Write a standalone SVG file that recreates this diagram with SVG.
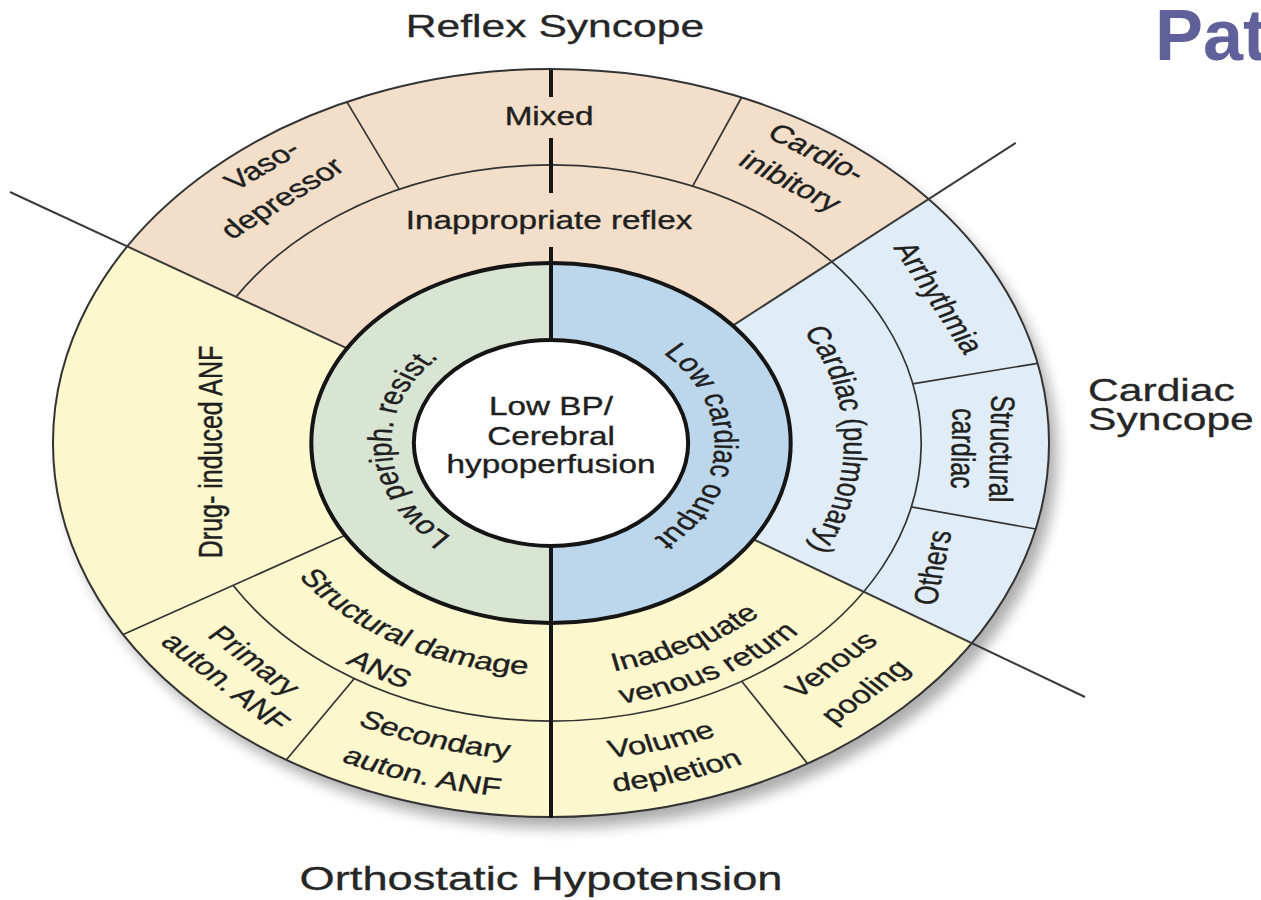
<svg xmlns="http://www.w3.org/2000/svg" width="1261" height="900" viewBox="0 0 1261 900">
<defs>
<style>
.lbl{font-family:"Liberation Sans",Arial,sans-serif;font-size:25px;fill:#1f1f1f;stroke:#1f1f1f;stroke-width:0.35px}
.ttl{font-family:"Liberation Sans",Arial,sans-serif;font-size:32px;fill:#262626;stroke:#262626;stroke-width:0.3px}
.thick{stroke:#151515;stroke-width:4;fill:none;vector-effect:non-scaling-stroke}
.thin{stroke:#333;stroke-width:1.7;fill:none;vector-effect:non-scaling-stroke}
.ext{stroke:#3a3a3a;stroke-width:2;fill:none;vector-effect:non-scaling-stroke}
</style>
<filter id="shadow" x="-10%" y="-10%" width="120%" height="130%">
<feGaussianBlur stdDeviation="7"/>
</filter>
<path id="p-lpr" d="M-14.6 119.1 A120 120 0 0 1 -27.0 -116.9"/>
<path id="p-lco" d="M25.6 -120.3 A123 123 0 0 1 17.1 121.8"/>
<path id="p-cp" d="M71.6 -208.0 A220 220 0 0 1 78.8 205.4"/>
<path id="p-sd" d="M-228.8 -38.7 A232 232 0 0 0 150.4 176.7"/>
<path id="p-ans" d="M-252.2 93.8 A269 269 0 0 0 48.6 264.6"/>
<path id="p-sec" d="M-264.3 175.0 A317 317 0 0 0 126.4 290.7"/>
<path id="p-sec2" d="M-295.3 196.9 A355 355 0 0 0 142.7 325.1"/>
<path id="p-inad" d="M-52.4 227.0 A233 233 0 0 0 214.5 91.0"/>
<path id="p-ven" d="M-55.3 260.2 A266 266 0 0 0 246.6 99.6"/>
<path id="p-vol" d="M-131.9 289.4 A318 318 0 0 0 262.1 180.1"/>
<path id="p-dep" d="M-143.2 321.5 A352 352 0 0 0 291.8 196.8"/>
</defs>
<rect width="1261" height="900" fill="#ffffff"/>
<ellipse cx="559" cy="454" rx="498" ry="374" fill="#000" opacity="0.32" filter="url(#shadow)"/>
<g id="wheel" transform="translate(551,443) scale(1.3316,1)">
  <g id="fills">
    <circle r="374" fill="#fdf7cd"/>
    <path d="M0 0 L-318.2 -196.5 A374 374 0 0 1 283.5 -243.9 Z" fill="#f3dfc9"/>
    <path d="M0 0 L283.5 -243.9 A374 374 0 0 1 316.0 200.1 Z" fill="#e0edf6"/>
    <path d="M0 -180 A180 180 0 0 0 0 180 Z" fill="#d8e5d3"/>
    <path d="M0 -180 A180 180 0 0 1 0 180 Z" fill="#bcd7eb"/>
    <circle r="103" fill="#ffffff"/>
  </g>
  <g id="connectors">
    <circle r="374" class="thin" style="stroke-width:2"/>
    <path class="thin" d="M-236.5 -146.1 A278 278 0 1 1 -238.8 142.3"/>
    <line class="ext" x1="-153.1" y1="-94.6" x2="-406.3" y2="-251.0"/>
    <line class="ext" x1="136.5" y1="-117.4" x2="349.0" y2="-300.2"/>
    <line class="ext" x1="152.1" y1="96.3" x2="401.0" y2="254.0"/>
    <line class="thin" x1="-154.6" y1="92.2" x2="-321.3" y2="191.5"/>
    <line class="thin" x1="-114.0" y1="-253.6" x2="-153.3" y2="-341.1"/>
    <line class="thin" x1="106.4" y1="-256.8" x2="143.1" y2="-345.5"/>
    <line class="thin" x1="271.6" y1="-59.2" x2="365.4" y2="-79.7"/>
    <line class="thin" x1="270.5" y1="63.9" x2="364.0" y2="86.0"/>
    <line class="thin" x1="-147.7" y1="235.5" x2="-198.7" y2="316.8"/>
    <line class="thin" x1="143.2" y1="238.3" x2="192.6" y2="320.6"/>
    <line class="thick" x1="0" y1="-373" x2="0" y2="-346"/>
    <line class="thick" x1="0" y1="-305" x2="0" y2="-250"/>
    <line class="thick" x1="0" y1="-196" x2="0" y2="-103"/>
    <line class="thick" x1="0" y1="103" x2="0" y2="375"/>
    <circle r="180" class="thick"/>
    <circle r="103" class="thick"/>
  </g>
  <g id="node-mixed"><text class="lbl" x="-1.5" y="-318" text-anchor="middle">Mixed</text></g>
  <g id="node-vasodepressor">
    <text class="lbl" transform="translate(-211.8,-271.1) rotate(-38)" text-anchor="middle">Vaso-</text>
    <text class="lbl" transform="translate(-196.6,-238.4) rotate(-39.5)" text-anchor="middle">depressor</text>
  </g>
  <g id="node-cardioinhibitory">
    <text class="lbl" transform="translate(194.8,-283.5) rotate(34.5)" text-anchor="middle">Cardio-</text>
    <text class="lbl" transform="translate(175.0,-254.6) rotate(34.5)" text-anchor="middle">inibitory</text>
  </g>
  <g id="node-inappropriate"><text class="lbl" x="-1.5" y="-214" text-anchor="middle">Inappropriate reflex</text></g>
  <g id="node-drug"><text class="lbl" transform="translate(-247,9) rotate(-90)" text-anchor="middle">Drug- induced ANF</text></g>
  <g id="node-lowperiph"><text class="lbl" text-anchor="middle"><textPath href="#p-lpr" startOffset="50%">Low periph. resist.</textPath></text></g>
  <g id="node-center">
    <text class="lbl" x="0" y="-28" text-anchor="middle">Low BP/</text>
    <text class="lbl" x="0" y="2" text-anchor="middle">Cerebral</text>
    <text class="lbl" x="0" y="30" text-anchor="middle">hypoperfusion</text>
  </g>
  <g id="node-lowcardiac"><text class="lbl" text-anchor="middle"><textPath href="#p-lco" startOffset="50%">Low cardiac output</textPath></text></g>
  <g id="node-cardiacpulm"><text class="lbl" text-anchor="middle"><textPath href="#p-cp" startOffset="50%">Cardiac (pulmonary)</textPath></text></g>
  <g id="node-arrhythmia"><text class="lbl" transform="translate(283.7,-141.5) rotate(63.5)" text-anchor="middle">Arrhythmia</text></g>
  <g id="node-structcardiac">
    <text class="lbl" transform="translate(329.9,5.8) rotate(91)" text-anchor="middle">Structural</text>
    <text class="lbl" transform="translate(301.0,5.3) rotate(91)" text-anchor="middle">cardiac</text>
  </g>
  <g id="node-others"><text class="lbl" transform="translate(295,126) rotate(-81)" text-anchor="middle">Others</text></g>
  <g id="node-structdamage">
    <text class="lbl" text-anchor="middle"><textPath href="#p-sd" startOffset="50%">Structural damage</textPath></text>
    <text class="lbl" text-anchor="middle"><textPath href="#p-ans" startOffset="50%">ANS</textPath></text>
  </g>
  <g id="node-primary">
    <text class="lbl" transform="translate(-228.8,223.7) rotate(45.65)" text-anchor="middle">Primary</text>
    <text class="lbl" transform="translate(-250.3,244.7) rotate(45.65)" text-anchor="middle">auton. ANF</text>
  </g>
  <g id="node-secondary">
    <text class="lbl" text-anchor="middle"><textPath href="#p-sec" startOffset="50%">Secondary</textPath></text>
    <text class="lbl" text-anchor="middle"><textPath href="#p-sec2" startOffset="50%">auton. ANF</textPath></text>
  </g>
  <g id="node-inadequate">
    <text class="lbl" text-anchor="middle"><textPath href="#p-inad" startOffset="50%">Inadequate</textPath></text>
    <text class="lbl" text-anchor="middle"><textPath href="#p-ven" startOffset="50%">venous return</textPath></text>
  </g>
  <g id="node-volume">
    <text class="lbl" text-anchor="middle"><textPath href="#p-vol" startOffset="50%">Volume</textPath></text>
    <text class="lbl" text-anchor="middle"><textPath href="#p-dep" startOffset="50%">depletion</textPath></text>
  </g>
  <g id="node-venous">
    <text class="lbl" transform="translate(216.2,227.8) rotate(-43.5)" text-anchor="middle">Venous</text>
    <text class="lbl" transform="translate(241.6,254.6) rotate(-43.5)" text-anchor="middle">pooling</text>
  </g>
</g>
<g id="node-title-reflex"><text class="ttl" transform="translate(555,37) scale(1.3316,1)" text-anchor="middle">Reflex Syncope</text></g>
<g id="node-title-cardiac">
  <text class="ttl" transform="translate(1088,401) scale(1.3316,1)">Cardiac</text>
  <text class="ttl" transform="translate(1088,430) scale(1.3316,1)">Syncope</text>
</g>
<g id="node-title-ortho"><text class="ttl" style="font-size:34px" transform="translate(541,890) scale(1.3316,1)" text-anchor="middle">Orthostatic Hypotension</text></g>
<g id="node-pat"><text x="1155" y="60" style="font-family:'Liberation Sans',Arial,sans-serif;font-size:72px;font-weight:bold;fill:#60609a">Pat</text></g>
</svg>
